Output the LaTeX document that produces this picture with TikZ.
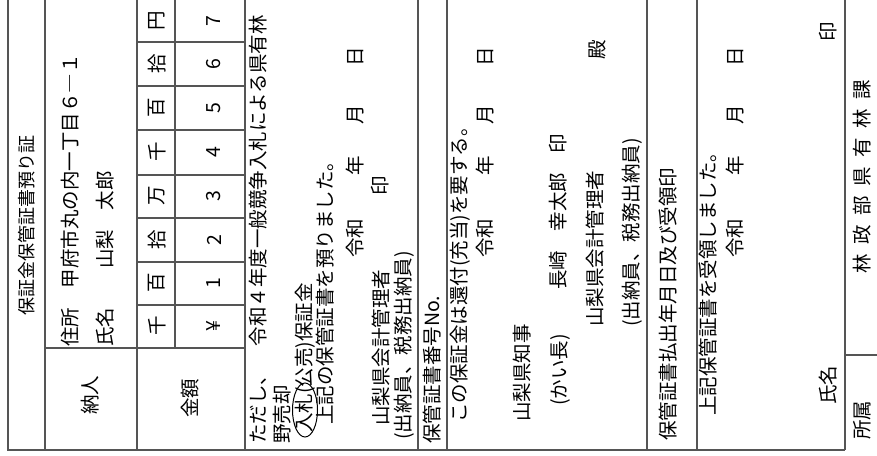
\documentclass[tikz,border=0pt]{standalone}
\usepackage{fontspec}
\usepackage{tikz}
\usetikzlibrary{positioning}
\newfontfamily\jp{Noto Sans CJK JP}
\definecolor{rulegray}{RGB}{85,85,85}
\newcommand{\wareki}{令和\hspace{43pt}年\hspace{32pt}月\hspace{38pt}日}

\begin{document}
\begin{tikzpicture}[
    x=1pt, y=-1pt,
    txt/.style={rotate=90, anchor=west, inner sep=0pt, font=\jp\fontsize{19.5}{22}\selectfont},
    cell/.style={rotate=90, anchor=center, inner sep=0pt, font=\jp\fontsize{19.5}{22}\selectfont},
    rule/.style={draw=rulegray, line width=1.1pt}
]
    \useasboundingbox (0,0) rectangle (877,455);

    % Rules
    \draw[rule] (8,0) -- (8,450) -- (845,450);
    \draw[rule] (45,0) -- (45,450);
    \draw[rule] (137,0) -- (137,450);
    \draw[rule] (245,0) -- (245,450);
    \draw[rule] (418,0) -- (418,450);
    \draw[rule] (447,0) -- (447,450);
    \draw[rule] (647,0) -- (647,450);
    \draw[rule] (697,0) -- (697,450);
    \draw[rule] (845,0) -- (845,450);
    \draw[rule] (175,0) -- (175,348);
    \draw[rule] (45,348) -- (245,348);
    \draw[rule] (137,42) -- (245,42) (137,86) -- (245,86) (137,130) -- (245,130)
        (137,175) -- (245,175) (137,218) -- (245,218) (137,262) -- (245,262)
        (137,305) -- (245,305);
    \draw[rule] (845,355) -- (877,355);

    % Title and payer
    \node[txt, font=\jp\fontsize{18}{20}\selectfont] (title) at (27,316) {保証金保管証書預り証};
    \node[txt] (juusho) at (70,347) {住所　甲府市丸の内一丁目６―１};
    \node[txt] (shimei) at (105,347) {氏名　　山梨　太郎};
    \node[cell] (nounin) at (90,395) {納人};
    \node[cell] (kingaku) at (190,398) {金額};

    % Amount grid
    \node[cell] (h1) at (157,326) {千};
    \node[cell] (h2) at (157,283) {百};
    \node[cell] (h3) at (157,240) {拾};
    \node[cell] (h4) at (157,196) {万};
    \node[cell] (h5) at (157,152) {千};
    \node[cell] (h6) at (157,108) {百};
    \node[cell] (h7) at (157,64) {拾};
    \node[cell] (h8) at (157,21) {円};
    \node[cell] (d1) at (214,326) {¥};
    \node[cell] (d2) at (214,283) {1};
    \node[cell] (d3) at (214,240) {2};
    \node[cell] (d4) at (214,196) {3};
    \node[cell] (d5) at (214,152) {4};
    \node[cell] (d6) at (214,108) {5};
    \node[cell] (d7) at (214,64) {6};
    \node[cell] (d8) at (214,21) {7};

    % Receipt
    \node[txt] (tadashi) at (258,444) {ただし、　令和４年度一般競争入札による県有林};
    \node[txt] (baikyaku) at (282,444) {野売却};
    \node[txt] (nyusatsu) at (305,433) {入札(公売)保証金};
    \draw[line width=1pt] (305,410) ellipse [x radius=12.5, y radius=27];
    \node[txt] (azukari) at (325,425) {上記の保管証書を預りました。};
    \node[txt] (date1) at (355,258) {\wareki};
    \node[cell] (in1) at (380,186) {印};
    \node[txt] (kaikei1) at (381,426) {山梨県会計管理者};
    \node[txt] (suitou1) at (404,440) {(出納員、税務出納員)};

    % Number
    \node[txt] (bango) at (432,444) {保管証書番号No.};

    % Refund order
    \node[txt] (kanpu) at (460,423) {この保証金は還付(充当)を要する。};
    \node[txt] (date2) at (485,258) {\wareki};
    \node[txt] (chiji) at (522,422) {山梨県知事};
    \node[txt] (kaichou) at (560,406) {(かい長)};
    \node[txt] (nagasaki) at (558,290) {長崎　幸太郎　印};
    \node[txt] (kaikei2) at (595,327) {山梨県会計管理者};
    \node[cell] (dono) at (597,50) {殿};
    \node[txt] (suitou2) at (632,327) {(出納員、税務出納員)};

    % Payout
    \node[txt] (haraidashi) at (668,441) {保管証書払出年月日及び受領印};
    \node[txt] (juryo) at (708,416) {上記保管証書を受領しました。};
    \node[txt] (date3) at (735,258) {\wareki};
    \node[cell] (shimei2) at (828,385) {氏名};
    \node[cell] (in3) at (828,32) {印};

    % Section
    \node[cell] (shozoku) at (862,420) {所属};
    \node[cell] (ka) at (862,177) {林\hspace{9.5pt}政\hspace{9.5pt}部\hspace{9.5pt}県\hspace{9.5pt}有\hspace{9.5pt}林\hspace{9.5pt}課};

\end{tikzpicture}
\end{document}
